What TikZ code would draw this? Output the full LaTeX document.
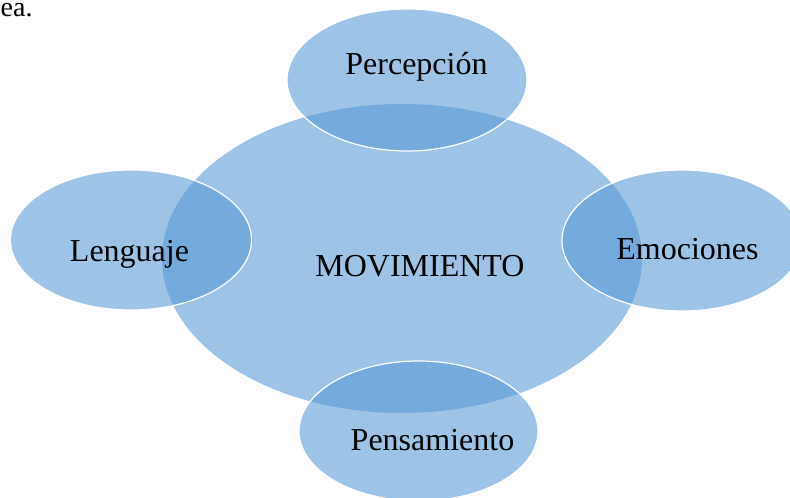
\documentclass[tikz,border=0pt]{standalone}
\usepackage{fontspec}
\setmainfont{Liberation Serif}
\usetikzlibrary{shapes.geometric}
\definecolor{bubblefill}{HTML}{5B9BD5}
\tikzset{
  bubble/.style={ellipse, inner sep=0pt, fill=bubblefill, fill opacity=0.6, draw opacity=1},
  outlined/.style={draw=white, line width=1.2pt},
  lbl/.style={anchor=base, inner sep=0pt, font=\fontsize{32}{38}\selectfont, text=black}
}
\begin{document}
\begin{tikzpicture}[x=1pt,y=1pt]
\useasboundingbox (0,0) rectangle (790,498);
% central ellipse
\node[bubble, minimum width=480pt, minimum height=309pt] (mov) at (402,239.5) {};
% satellite ellipses
\node[bubble, outlined, minimum width=240pt, minimum height=142pt] (per) at (407,418) {};
\node[bubble, outlined, minimum width=241pt, minimum height=140pt] (len) at (131,258) {};
\node[bubble, outlined, minimum width=240pt, minimum height=141pt] (emo) at (682,257.5) {};
\node[bubble, outlined, minimum width=239pt, minimum height=140pt] (pen) at (418.5,67) {};
% labels
\node[lbl] (tmov) at (420,221) {MOVIMIENTO};
\node[lbl] (tper) at (416.5,423) {Percepción};
\node[lbl] (tlen) at (129.5,236) {Lenguaje};
\node[lbl] (temo) at (687.5,238) {Emociones};
\node[lbl] (tpen) at (432.5,47) {Pensamiento};
\node[anchor=base west, inner sep=0pt, text height=13pt, text depth=0pt, font=\fontsize{28}{34}\selectfont] (tea) at (0.5,481) {ea.};
\end{tikzpicture}
\end{document}
